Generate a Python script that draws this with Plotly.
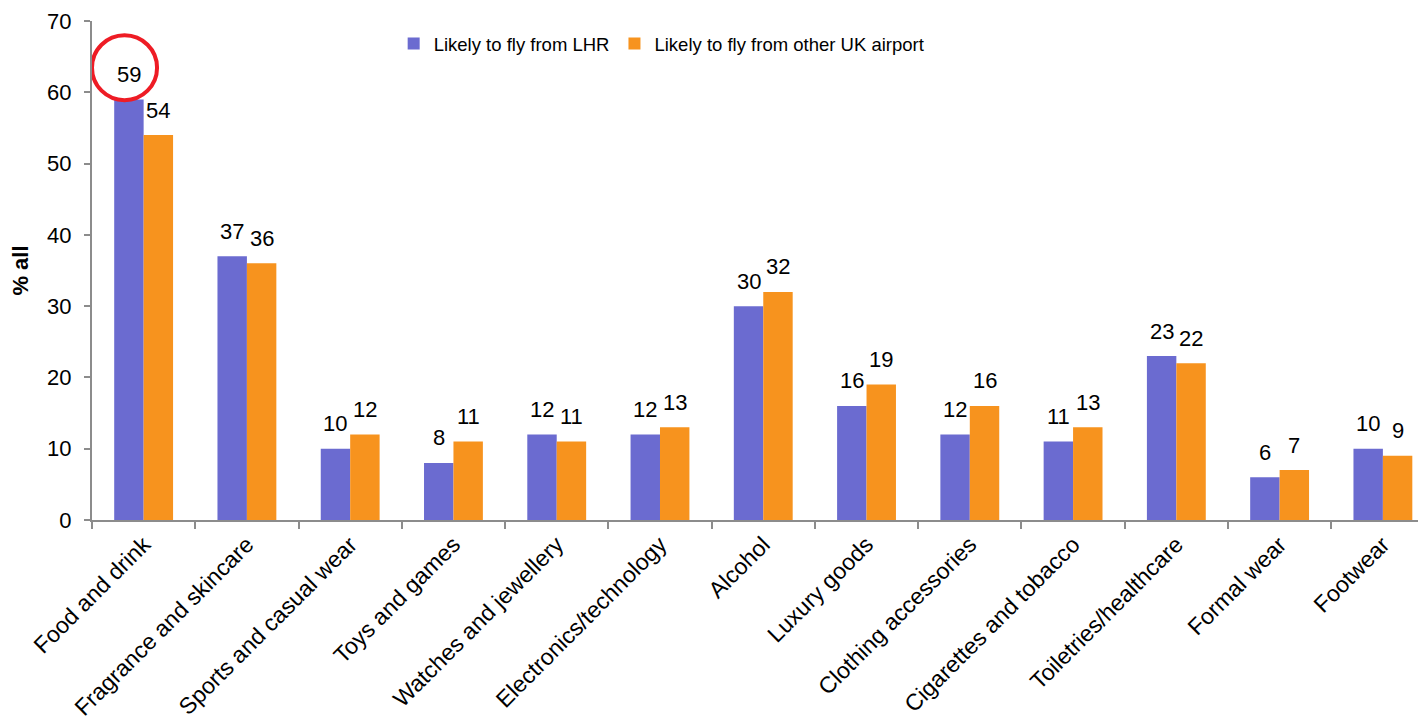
import plotly.graph_objects as go

categories = [
    "Food and drink", "Fragrance and skincare", "Sports and casual wear",
    "Toys and games", "Watches and jewellery", "Electronics/technology",
    "Alcohol", "Luxury goods", "Clothing accessories",
    "Cigarettes and tobacco", "Toiletries/healthcare", "Formal wear", "Footwear",
]
lhr = [59, 37, 10, 8, 12, 12, 30, 16, 12, 11, 23, 6, 10]
other_uk = [54, 36, 12, 11, 11, 13, 32, 19, 16, 13, 22, 7, 9]
series_names = ["Likely to fly from LHR", "Likely to fly from other UK airport"]
y_ticks = [0, 10, 20, 30, 40, 50, 60, 70]

BLUE = "#6b6bd0"
ORANGE = "#f7931e"
AXIS = "#8c8c8c"
FONT = "Liberation Sans, Arial, sans-serif"

fig = go.Figure()
for name, vals, col in [(series_names[0], lhr, BLUE), (series_names[1], other_uk, ORANGE)]:
    fig.add_trace(go.Bar(
        x=categories, y=vals, name=name,
        marker=dict(color=col, line=dict(width=0)),
    ))

# value labels above each bar
BAR_PX = 29.5
for vals, shift in [(lhr, -BAR_PX / 2), (other_uk, BAR_PX / 2)]:
    for c, v in zip(categories, vals):
        fig.add_annotation(
            x=c, y=v, text=str(v), showarrow=False,
            xshift=shift, yshift=25, yanchor="middle",
            font=dict(family=FONT, size=22, color="#000"),
        )

# highlight ring around the top LHR value
top_v = lhr[0]
fig.add_shape(
    type="circle", xref="x", yref="y",
    x0=-0.50, x1=0.13, y0=top_v - 0.1, y1=top_v + 9.0,
    line=dict(color="#ee1c25", width=4),
)

fig.update_layout(
    width=1418, height=726,
    margin=dict(l=92, r=0, t=21, b=206),
    paper_bgcolor="white", plot_bgcolor="white",
    barmode="group", bargap=0.43, bargroupgap=0,
    font=dict(family=FONT, size=20, color="#000"),
    showlegend=True,
    legend=dict(
        orientation="h", x=0.2275, y=0.954, xanchor="left", yanchor="middle",
        font=dict(family=FONT, size=18.5, color="#000"),
        itemwidth=30, bgcolor="rgba(0,0,0,0)",
    ),
    xaxis=dict(
        type="category", range=[-0.5, 12.34], automargin=False,
        showline=True, linecolor=AXIS, linewidth=2,
        ticks="outside", tickson="boundaries", ticklen=7, tickcolor=AXIS, tickwidth=2,
        tickangle=-45, tickfont=dict(family=FONT, size=23),
        showgrid=False, zeroline=False,
    ),
    yaxis=dict(
        range=[0, 70], tickvals=y_ticks, automargin=False,
        showline=True, linecolor=AXIS, linewidth=2,
        ticks="outside", ticklen=6, tickcolor=AXIS, tickwidth=2,
        tickfont=dict(family=FONT, size=22), ticklabelstandoff=8,
        showgrid=False, zeroline=False,
        title=dict(text="<b>% all</b>", font=dict(family=FONT, size=22), standoff=12),
    ),
)

fig.write_html("out.html")
